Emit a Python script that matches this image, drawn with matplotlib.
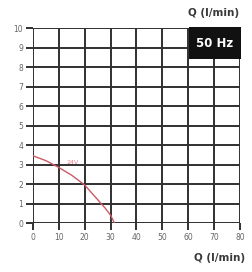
import matplotlib
matplotlib.use('Agg')
import matplotlib.pyplot as plt
from matplotlib.patches import Rectangle

# 流量-扬程曲线
q_vals = [0, 5, 10, 15, 20, 25, 28, 30, 31.5]
h_vals = [3.45, 3.2, 2.85, 2.45, 1.95, 1.2, 0.75, 0.4, 0.0]
x_ticks = [0, 10, 20, 30, 40, 50, 60, 70, 80]
y_ticks = list(range(0, 11))
curve_label = '24V'
freq_label = '50 Hz'
axis_label = 'Q (l/min)'

fig = plt.figure(figsize=(2.53, 2.72), dpi=100)
ax = fig.add_axes([0.130, 0.180, 0.819, 0.717])

ax.set_xlim(0, 80)
ax.set_ylim(0, 10)
ax.set_xticks(x_ticks)
ax.set_yticks(y_ticks)
ax.grid(True, color='#303030', lw=1.4)
for s in ax.spines.values():
    s.set_visible(False)
ax.tick_params(length=5, width=1.4, color='#303030', labelsize=5.5,
               labelcolor='#666666', pad=2)

ax.plot(q_vals, h_vals, color='#cc5a66', lw=1.0, zorder=3)
ax.text(13, 3.05, curve_label, color='#e06878', fontsize=4.5, alpha=0.85)

# 50 Hz 标签框
ax.add_patch(Rectangle((60.4, 8.4), 19.8, 1.65, transform=ax.transData,
                       fc='#111111', ec='none', zorder=4, clip_on=False))
ax.text(70.3, 9.2, freq_label, ha='center', va='center',
        color='white', fontsize=8.5, fontweight='bold', zorder=5)

fig.text(0.945, 0.952, axis_label, ha='right', va='center', fontsize=7.5,
         fontweight='bold', color='#3a3a3a')
fig.text(0.968, 0.05, axis_label, ha='right', va='center', fontsize=7.5,
         fontweight='bold', color='#3a3a3a')

plt.savefig('out.png', dpi=100)
